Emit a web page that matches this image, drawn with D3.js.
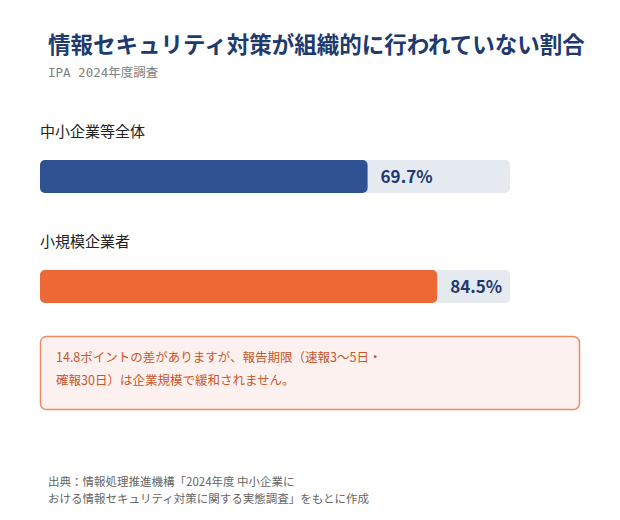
<!DOCTYPE html>
<html><head><meta charset="utf-8">
<script src="https://cdn.jsdelivr.net/npm/d3@7"></script>
<style>body{margin:0;background:#fff}</style>
</head><body>
<svg id="chart" width="620" height="520"></svg>
<script>
// Chart data
const categories = ["中小企業等全体", "小規模企業者"];
const values = [69.7, 84.5];
const colours = ["#2d5191", "#ec6935"];
const noteLines = ["14.8ポイントの差がありますが、報告期限（速報3〜5日・", "確報30日）は企業規模で緩和されません。"];
const sourceLines = ["出典：情報処理推進機構「2024年度 中小企業に", "おける情報セキュリティ対策に関する実態調査」をもとに作成"];

const svg = d3.select("#chart");
const font = "'Noto Sans CJK JP', 'Noto Sans', sans-serif";

svg.append("text").attr("x", 48).attr("y", 53)
  .attr("font-family", font).attr("font-size", 22.5).attr("font-weight", "bold")
  .attr("fill", "#1e3a6e").text("情報セキュリティ対策が組織的に行われていない割合");
svg.append("text").attr("x", 48).attr("y", 77)
  .attr("font-family", "'DejaVu Sans Mono', 'Noto Sans CJK JP', monospace").attr("font-size", 12.5)
  .attr("fill", "#808080").text("IPA 2024年度調査");

const x = d3.scaleLinear().domain([0, 100]).range([40, 510]);
const y = d3.scaleBand().domain(categories).range([160, 380]).paddingInner(0).paddingOuter(0);
const barH = 33;

const g = svg.append("g").selectAll("g").data(categories).join("g")
  .attr("transform", d => `translate(0, ${y(d)})`);
g.append("text").attr("x", 40).attr("y", -23)
  .attr("font-family", font).attr("font-size", 15).attr("fill", "#222")
  .text(d => d);
g.append("rect").attr("x", x(0)).attr("width", x(100) - x(0)).attr("height", barH)
  .attr("rx", 5).attr("fill", "#e5e9f0");
g.append("rect").attr("x", x(0)).attr("width", (d, i) => x(values[i]) - x(0)).attr("height", barH)
  .attr("rx", 5).attr("fill", (d, i) => colours[i]);
g.append("text").attr("x", (d, i) => x(values[i]) + 13).attr("y", barH / 2 + 6)
  .attr("font-family", font).attr("font-size", 17).attr("font-weight", "bold")
  .attr("fill", "#1e3a6e").text((d, i) => values[i].toFixed(1) + "%");

// Note box
svg.append("rect").attr("x", 40.5).attr("y", 336.5).attr("width", 539).attr("height", 73)
  .attr("rx", 6).attr("fill", "#fcf1ee").attr("stroke", "#ef8a62").attr("stroke-width", 1.5);
svg.append("g").selectAll("text").data(noteLines).join("text")
  .attr("x", 56).attr("y", (d, i) => 362 + i * 23)
  .attr("font-family", font).attr("font-size", 12.5).attr("fill", "#c9572c").text(d => d);

// Source
svg.append("g").selectAll("text").data(sourceLines).join("text")
  .attr("x", 48).attr("y", (d, i) => 486 + i * 17)
  .attr("font-family", font).attr("font-size", 11.5).attr("fill", "#666").text(d => d);
</script>
</body></html>
